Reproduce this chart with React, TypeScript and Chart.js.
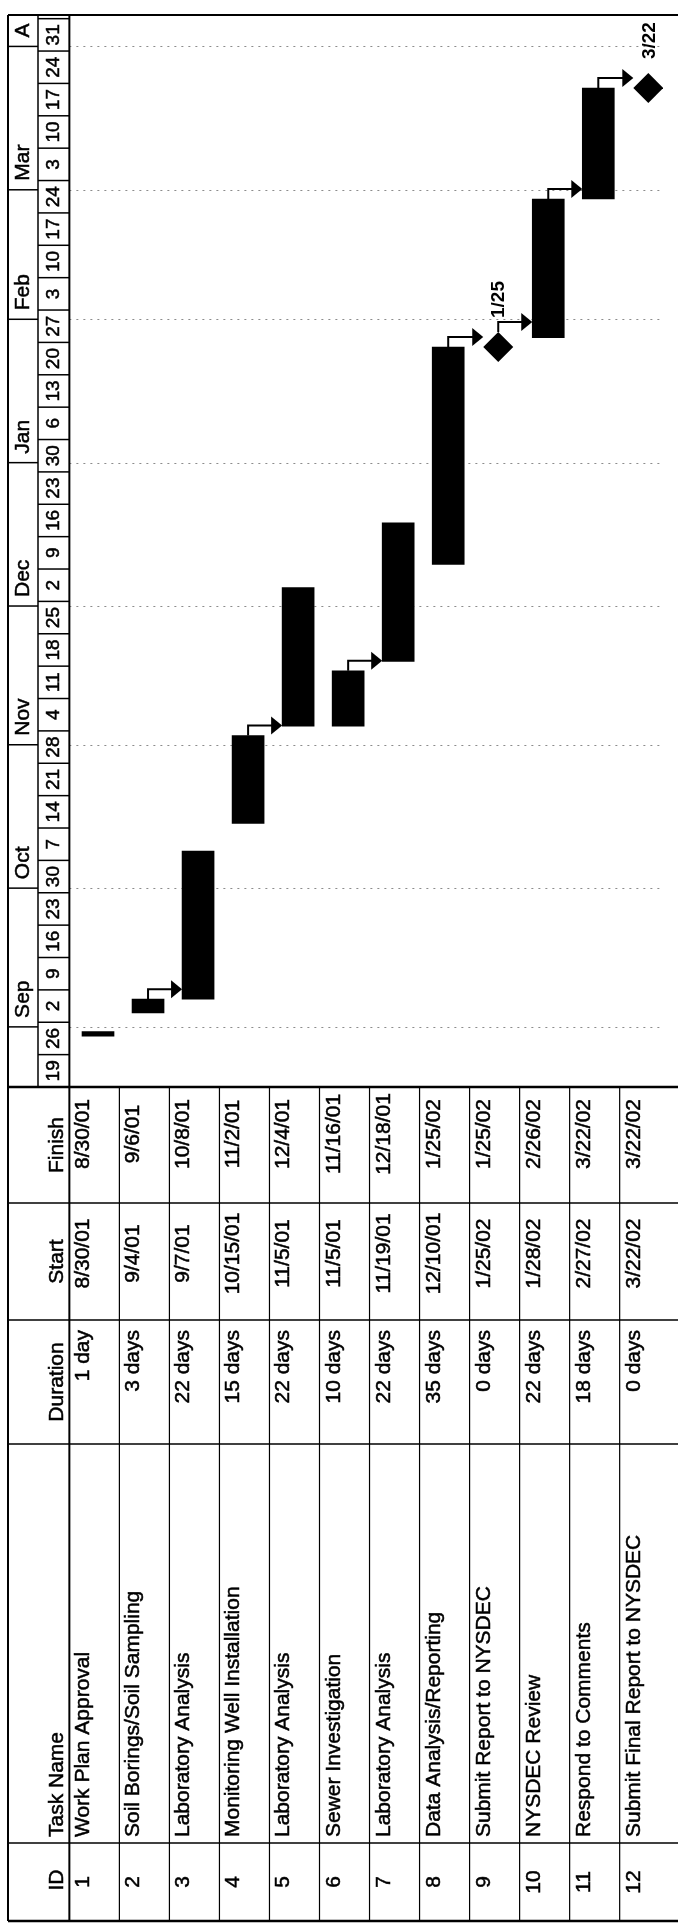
import React, { useEffect, useRef } from 'react';
import { Chart, registerables } from 'chart.js';

Chart.register(...registerables);

// ---------------- data ----------------
const TASK_IDS = ['1', '2', '3', '4', '5', '6', '7', '8', '9', '10', '11', '12'];
const TASK_NAMES = [
  'Work Plan Approval',
  'Soil Borings/Soil Sampling',
  'Laboratory Analysis',
  'Monitoring Well Installation',
  'Laboratory Analysis',
  'Sewer Investigation',
  'Laboratory Analysis',
  'Data Analysis/Reporting',
  'Submit Report to NYSDEC',
  'NYSDEC Review',
  'Respond to Comments',
  'Submit Final Report to NYSDEC',
];
const DURATIONS = ['1 day', '3 days', '22 days', '15 days', '22 days', '10 days', '22 days', '35 days', '0 days', '22 days', '18 days', '0 days'];
const STARTS = ['8/30/01', '9/4/01', '9/7/01', '10/15/01', '11/5/01', '11/5/01', '11/19/01', '12/10/01', '1/25/02', '1/28/02', '2/27/02', '3/22/02'];
const FINISHES = ['8/30/01', '9/6/01', '10/8/01', '11/2/01', '12/4/01', '11/16/01', '12/18/01', '1/25/02', '1/25/02', '2/26/02', '3/22/02', '3/22/02'];
const MILESTONE_LABELS = ['1/25', '3/22'];
const LINKS = [[2, 3], [4, 5], [6, 7], [8, 9], [9, 10], [10, 11], [11, 12]];

const TIMESCALE_START = '8/19/01';
const WEEK_LABELS = ['19', '26', '2', '9', '16', '23', '30', '7', '14', '21', '28', '4', '11', '18', '25', '2', '9', '16', '23', '30', '6', '13', '20', '27', '3', '10', '17', '24', '3', '10', '17', '24', '31'];
const MONTH_LABELS = ['Sep', 'Oct', 'Nov', 'Dec', 'Jan', 'Feb', 'Mar', 'A'];
const MONTH_STARTS = ['9/1/01', '10/1/01', '11/1/01', '12/1/01', '1/1/02', '2/1/02', '3/1/02', '4/1/02'];
const HEADERS = ['Finish', 'Start', 'Duration', 'Task Name', 'ID'];

// ---------------- layout ----------------
const W = 678;
const H = 1923;
const BORDER = 8;
const MONTH_COL_R = 38;
const CHART_LEFT = 73;
const CHART_TOP = 8;
const CHART_BOTTOM = 1087;
const COL_W = 51.3;
const PX_PER_DAY = 4.655;
const Y_MAX = (CHART_BOTTOM - CHART_TOP) / PX_PER_DAY;
const X_MAX = -0.5 + (W - CHART_LEFT) / COL_W;
const BAR_W = 32;
const MS_R = 15;
const TABLE_BANDS = [1203, 1320, 1444, 1843, 1921];
const FONT = "'Liberation Sans', Arial, Helvetica, sans-serif";

const BASE = (() => {
  const [m, d, y] = TIMESCALE_START.split('/').map(Number);
  return Date.UTC(2000 + y, m - 1, d);
})();
function dayOf(s: string): number {
  const [m, d, y] = s.split('/').map(Number);
  return (Date.UTC(2000 + y, m - 1, d) - BASE) / 86400000;
}
const isMs = (i: number) => DURATIONS[i] === '0 days';
const endDay = (i: number) => dayOf(FINISHES[i]) + 1;
const startDay = (i: number) => (isMs(i) ? endDay(i) : dayOf(STARTS[i]));

function vtext(ctx: CanvasRenderingContext2D, text: string, x: number, y: number, align: CanvasTextAlign, baseline: CanvasTextBaseline, font: string, heavy = true) {
  ctx.save();
  ctx.translate(x, y);
  ctx.rotate(-Math.PI / 2);
  ctx.font = font;
  ctx.textAlign = align;
  ctx.textBaseline = baseline;
  ctx.fillStyle = '#000';
  ctx.fillText(text, 0, 0);
  if (heavy) {
    ctx.strokeStyle = '#000';
    ctx.lineWidth = 0.5;
    ctx.strokeText(text, 0, 0);
  }
  ctx.restore();
}
function line(ctx: CanvasRenderingContext2D, x1: number, y1: number, x2: number, y2: number, w = 1) {
  ctx.save();
  ctx.lineWidth = w;
  ctx.strokeStyle = '#000';
  ctx.beginPath();
  ctx.moveTo(x1, y1);
  ctx.lineTo(x2, y2);
  ctx.stroke();
  ctx.restore();
}

const ganttPlugin = {
  id: 'ganttTable',
  beforeDraw(chart: any) {
    const { ctx, width, height } = chart;
    ctx.save();
    ctx.fillStyle = '#fff';
    ctx.fillRect(0, 0, width, height);
    ctx.restore();
  },
  beforeDatasetsDraw(chart: any) {
    const { ctx, chartArea: ca, scales } = chart;
    const x = scales.x, y = scales.y;
    const colLeft0 = x.getPixelForValue(0) - COL_W / 2 - 3;
    ctx.save();
    ctx.strokeStyle = '#8c8c8c';
    ctx.lineWidth = 1;
    ctx.setLineDash([2, 5]);
    MONTH_STARTS.forEach((s) => {
      const py = Math.round(y.getPixelForValue(dayOf(s))) + 0.5;
      ctx.beginPath();
      ctx.moveTo(colLeft0, py);
      ctx.lineTo(ca.right, py);
      ctx.stroke();
    });
    ctx.restore();
  },
  afterDatasetsDraw(chart: any) {
    const { ctx, scales } = chart;
    const x = scales.x, y = scales.y;
    // links
    ctx.save();
    ctx.strokeStyle = '#000';
    ctx.fillStyle = '#000';
    ctx.lineWidth = 2;
    LINKS.forEach(([a, b]) => {
      const i = TASK_IDS.indexOf(String(a));
      const j = TASK_IDS.indexOf(String(b));
      const px0 = x.getPixelForValue(i);
      const top0 = y.getPixelForValue(endDay(i)) - (isMs(i) ? MS_R : 0);
      const sx = x.getPixelForValue(j) - (isMs(j) ? MS_R : BAR_W / 2);
      const sy = y.getPixelForValue(startDay(j));
      const dropY = Math.min(sy, top0 - 10);
      ctx.beginPath();
      ctx.moveTo(px0, top0);
      ctx.lineTo(px0, dropY);
      ctx.lineTo(sx - 9, dropY);
      ctx.stroke();
      ctx.beginPath();
      ctx.moveTo(sx, dropY);
      ctx.lineTo(sx - 11, dropY - 9);
      ctx.lineTo(sx - 11, dropY + 9);
      ctx.closePath();
      ctx.fill();
    });
    ctx.restore();
    // milestone labels
    let k = 0;
    TASK_IDS.forEach((_, i) => {
      if (!isMs(i)) return;
      const cx = x.getPixelForValue(i);
      const cy = y.getPixelForValue(endDay(i));
      vtext(ctx, MILESTONE_LABELS[k++], cx + 1, cy - MS_R - 14, 'left', 'middle', `bold 19px ${FONT}`, false);
    });
  },
  afterDraw(chart: any) {
    const { ctx, chartArea: ca, scales } = chart;
    const x = scales.x, y = scales.y;
    const colLeft = (i: number) => x.getPixelForValue(i) - COL_W / 2 - 3;
    const hdrR = colLeft(0);
    const tsBottom = y.getPixelForValue(0);
    const bottom = TABLE_BANDS[TABLE_BANDS.length - 1];

    // timescale: weeks
    const weekX = (MONTH_COL_R + hdrR) / 2;
    WEEK_LABELS.forEach((lab, k) => {
      const yb = y.getPixelForValue(7 * k);
      const yt = Math.max(ca.top, y.getPixelForValue(7 * (k + 1)));
      if (yt > ca.top + 1) line(ctx, MONTH_COL_R, yt, hdrR, yt, 1.5);
      vtext(ctx, lab, weekX, (yb + yt) / 2, 'center', 'middle', `19px ${FONT}`);
    });
    // timescale: months
    const monthX = (BORDER + MONTH_COL_R) / 2;
    MONTH_STARTS.forEach((s, k) => {
      const py = y.getPixelForValue(dayOf(s));
      line(ctx, BORDER, py, MONTH_COL_R, py, 1.5);
      vtext(ctx, MONTH_LABELS[k], monthX, py - 9, 'left', 'middle', `21px ${FONT}`);
    });

    // frame
    line(ctx, BORDER, ca.top, W, ca.top, 2);
    line(ctx, BORDER, ca.top, BORDER, bottom, 2);
    line(ctx, MONTH_COL_R, ca.top, MONTH_COL_R, tsBottom, 1.5);
    line(ctx, hdrR, ca.top, hdrR, bottom, 2);

    // table horizontal lines
    line(ctx, BORDER, tsBottom, W, tsBottom, 2.5);
    TABLE_BANDS.forEach((b, k) => line(ctx, BORDER, b, W, b, k === TABLE_BANDS.length - 1 ? 2.5 : 1.5));
    // table vertical lines
    for (let i = 1; i < TASK_IDS.length; i++) {
      const lx = colLeft(i);
      line(ctx, lx, tsBottom, lx, bottom, 1.2);
    }

    const bands = [tsBottom, ...TABLE_BANDS];
    const f = `21px ${FONT}`;
    // headers
    const hx = hdrR - 6;
    vtext(ctx, HEADERS[0], hx, (bands[0] + bands[1]) / 2, 'center', 'alphabetic', f);
    vtext(ctx, HEADERS[1], hx, (bands[1] + bands[2]) / 2, 'center', 'alphabetic', f);
    vtext(ctx, HEADERS[2], hx, (bands[2] + bands[3]) / 2, 'center', 'alphabetic', f);
    vtext(ctx, HEADERS[3], hx, bands[4] - 6, 'left', 'alphabetic', f);
    vtext(ctx, HEADERS[4], hx, (bands[4] + bands[5]) / 2 - 2, 'center', 'alphabetic', f);
    // cells
    TASK_IDS.forEach((id, i) => {
      const bx = colLeft(i) + 20;
      vtext(ctx, FINISHES[i], bx, (bands[0] + bands[1]) / 2 - 11, 'center', 'alphabetic', f);
      vtext(ctx, STARTS[i], bx, (bands[1] + bands[2]) / 2 - 8, 'center', 'alphabetic', f);
      vtext(ctx, DURATIONS[i], bx, bands[2] + 10, 'right', 'alphabetic', f);
      vtext(ctx, TASK_NAMES[i], bx, bands[4] - 6, 'left', 'alphabetic', f);
      vtext(ctx, id, bx, (bands[4] + bands[5]) / 2, 'center', 'alphabetic', f);
    });
  },
};

export default function App() {
  const ref = useRef<HTMLCanvasElement | null>(null);
  useEffect(() => {
    document.body.style.margin = '0';
    document.body.style.overflow = 'hidden';
    const canvas = ref.current;
    if (!canvas) return;
    const barData = TASK_IDS.map((_, i) => i)
      .filter((i) => !isMs(i))
      .map((i) => ({ x: i, y: [startDay(i), endDay(i)] }));
    const msData = TASK_IDS.map((_, i) => i)
      .filter((i) => isMs(i))
      .map((i) => ({ x: i, y: endDay(i) }));
    const chart = new Chart(canvas, {
      type: 'bar',
      data: {
        datasets: [
          {
            type: 'bar',
            data: barData as any,
            backgroundColor: '#000',
            borderWidth: 0,
            borderSkipped: false,
            barThickness: BAR_W,
          } as any,
          {
            type: 'scatter',
            data: msData as any,
            pointStyle: 'rectRot',
            pointRadius: MS_R,
            backgroundColor: '#000',
            borderColor: '#000',
            borderWidth: 0,
          } as any,
        ],
      },
      options: {
        responsive: false,
        animation: false,
        events: [],
        layout: { padding: { left: CHART_LEFT, top: CHART_TOP, right: 0, bottom: H - CHART_BOTTOM } },
        plugins: { legend: { display: false }, tooltip: { enabled: false } },
        scales: {
          x: { type: 'linear', min: -0.5, max: X_MAX, offset: false, display: false },
          y: { type: 'linear', min: 0, max: Y_MAX, display: false },
        },
      } as any,
      plugins: [ganttPlugin as any],
    });
    return () => chart.destroy();
  }, []);
  return <canvas ref={ref} width={W} height={H} style={{ display: 'block', width: W, height: H }} />;
}
